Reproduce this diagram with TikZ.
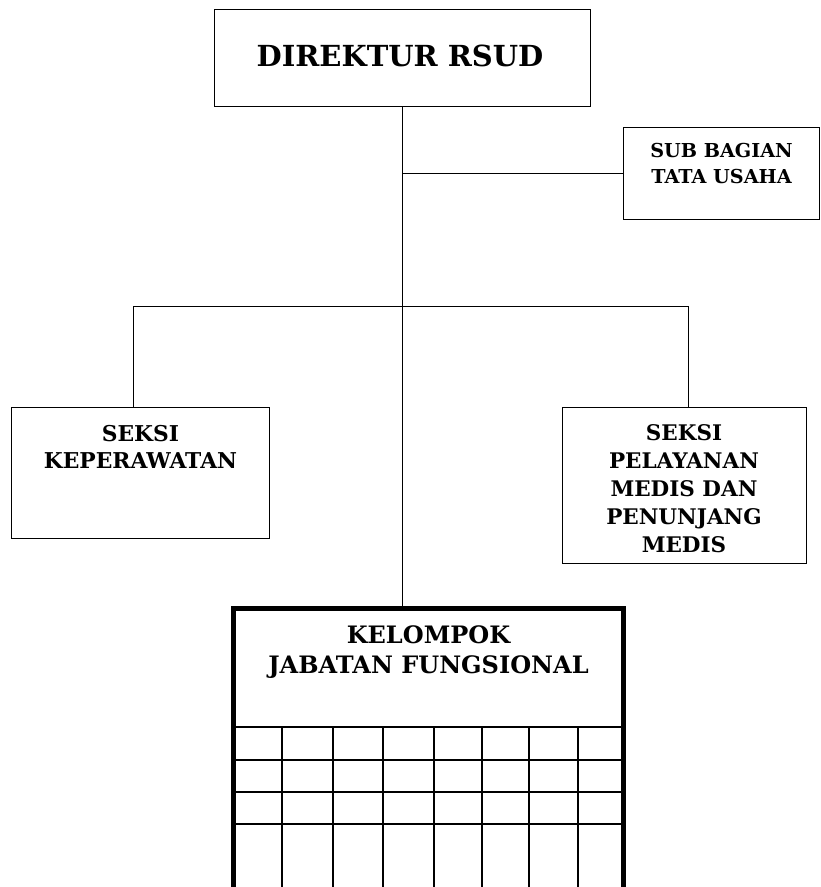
\documentclass[tikz,border=0pt]{standalone}
\usepackage{fontspec}
\newfontfamily\bk{DejaVu Serif}
\begin{document}
\begin{tikzpicture}[x=1pt,y=-1pt,
  box/.style={draw,line width=1pt,minimum width=#1,inner sep=0pt},
  txt/.style={anchor=base,align=center,inner sep=0pt,font=\bk\bfseries},
  conn/.style={line width=1pt},
  grid/.style={line width=1.7pt}]
\useasboundingbox (0,0) rectangle (821,887);
\clip (0,0) rectangle (821,887);
% boxes
\node[box=376pt,minimum height=97pt] (dir) at (402,57.5) {};
\node[box=196pt,minimum height=92pt] (sub) at (721,173) {};
\node[box=258pt,minimum height=131pt] (kep) at (140,472.5) {};
\node[box=244pt,minimum height=156pt] (pel) at (684,485) {};
\node[draw,line width=5pt,minimum width=390pt,minimum height=320pt,inner sep=0pt,anchor=north] (kjf) at (428.5,605.5) {};
% texts (anchored at the baseline of the last line)
\node[txt,font=\bk\bfseries\fontsize{29}{32}\selectfont] (dirt) at (400,66) {DIREKTUR RSUD};
\node[txt,font=\bk\bfseries\fontsize{19.2}{26}\selectfont] (subt) at (721.5,183) {SUB BAGIAN\\TATA USAHA};
\node[txt,font=\bk\bfseries\fontsize{21.8}{27}\selectfont] (kept) at (140.5,468) {SEKSI\\KEPERAWATAN};
\node[txt,font=\bk\bfseries\fontsize{21.5}{27.8}\selectfont] (pelt) at (684,552) {SEKSI\\PELAYANAN\\MEDIS DAN\\PENUNJANG\\MEDIS};
\node[txt,font=\bk\bfseries\fontsize{24}{30}\selectfont] (kjft) at (428.5,673) {KELOMPOK\\JABATAN FUNGSIONAL};
% connectors
\coordinate (bl) at (133,306);
\coordinate (br) at (688,306);
\draw[conn] (dir.south) -- (dir.south |- kjf.north);
\draw[conn] (dir.south |- sub.west) -- (sub.west);
\draw[conn] (bl) -- (br);
\draw[conn] (bl) -- (bl |- kep.north);
\draw[conn] (br) -- (br |- pel.north);
% grid inside KJF
\draw[line width=2.4pt] (236,727) -- (621,727);
\foreach \yy in {760,792,824} \draw[grid] (236,\yy) -- (621,\yy);
\foreach \xx in {282,333,383,434,482,529,578} \draw[grid] (\xx,727) -- (\xx,887);
\end{tikzpicture}
\end{document}
